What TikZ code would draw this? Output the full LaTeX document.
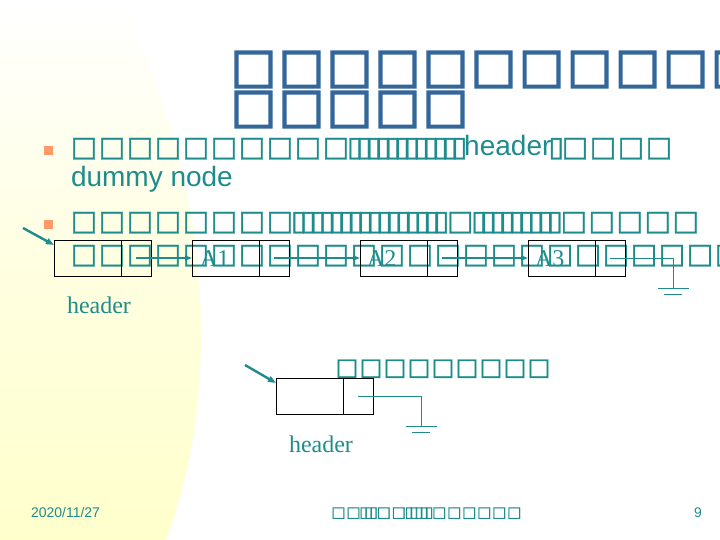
\documentclass[tikz,border=0pt]{standalone}
\usepackage{fontspec}
\setmainfont{Liberation Serif}
\setsansfont{Liberation Sans}
\newfontfamily\tofu[FakeBold=1.2]{DejaVu Sans Bold}
\newfontfamily\titletofu[FakeBold=3]{DejaVu Sans Bold}
\usetikzlibrary{arrows.meta, positioning}

\definecolor{tealtext}{RGB}{30,140,140}
\definecolor{titleblue}{RGB}{51,102,153}
\definecolor{bulletorange}{RGB}{255,153,102}
\definecolor{paleyellow}{RGB}{255,255,204}

% missing glyphs, as the slide shows them
\newcommand\sq{\makebox[1em]{\tofu □}}
\newcommand\nb{\makebox[0.34em]{\tofu ▯}}
\newcommand\bigsq{\makebox[1em]{\titletofu □}}
\newcommand\sqs[1]{\foreach\k in {1,...,#1}{\sq}}
\newcommand\nbs[1]{\foreach\k in {1,...,#1}{\nb}}
\newcommand\bigsqs[1]{\foreach\k in {1,...,#1}{\bigsq}}
\newcommand\earth[1]{%
  \draw[gndline] ([xshift=-15.5bp]#1) -- ([xshift=15.5bp]#1);
  \draw[gndline] ([xshift=-9bp,yshift=-6bp]#1) -- ([xshift=9bp,yshift=-6bp]#1);}

\tikzset{
  titletext/.style={anchor=base west, inner sep=0pt, outer sep=0pt, text=titleblue, font=\fontsize{48bp}{48bp}\selectfont},
  body/.style={anchor=base west, inner sep=0pt, outer sep=0pt, text=tealtext, font=\fontsize{28bp}{34bp}\selectfont},
  serifname/.style={anchor=base west, inner sep=0pt, outer sep=0pt, text=tealtext, font=\fontsize{24bp}{28bp}\selectfont},
  foot/.style={anchor=base west, inner sep=0pt, outer sep=0pt, text=tealtext, font=\fontsize{14bp}{16bp}\selectfont\sffamily},
  bullet/.style={fill=bulletorange, minimum size=9bp, inner sep=0pt},
  datacell/.style={draw=black, line width=0.8bp, minimum width=67bp, minimum height=36bp, inner sep=0pt, outer sep=0pt},
  ptrcell/.style={datacell, minimum width=30bp},
  link/.style={draw=tealtext, line width=1.6bp, -{Triangle[length=7bp,width=5bp]}},
  headptr/.style={draw=tealtext, line width=2.4bp, -{Triangle[length=8bp,width=6bp]}},
  gndline/.style={draw=tealtext, line width=0.8bp},
}

\begin{document}
\begin{tikzpicture}[x=1bp, y=-1bp]
  \useasboundingbox (0,0) rectangle (720,540);
  \clip (0,0) rectangle (720,540);
  % background
  \shade[top color=white, bottom color=paleyellow, middle color=paleyellow!60!white] (0,0) -- (120,0) .. controls (210,180) and (225,380) .. (166,540) -- (0,540) -- cycle;

  % title
  \node[titletext] (t1) at (229.5,82) {\bigsqs{11}};
  \node[titletext] (t2) at (229.5,122) {\bigsqs{5}};

  % bullets and text
  \node[bullet] (b1) at (48.5,151) {};
  \node[bullet] (b2) at (48.5,225) {};
  \node[body] (l1) at (70,156) {\sqs{10}\nbs{12}\textsf{header}\nb\sqs{4}};
  \node[body] (l2) at (71,187) {\sffamily dummy node};
  \node[body] (l3) at (70,230) {\sqs{8}\nbs{16}\sq\nbs{9}\sqs{5}};
  \node[body] (l4) at (70,263) {\sqs{24}};

  % list with header
  \coordinate (p1) at (23,228);
  \node[datacell, anchor=north west] (hd) at (54,240) {};
  \node[ptrcell, right=0pt of hd] (hdp) {};
  \node[datacell, anchor=north west] (a1) at (192,240) {};
  \node[ptrcell, right=0pt of a1] (a1p) {};
  \node[datacell, anchor=north west] (a2) at (360,240) {};
  \node[ptrcell, right=0pt of a2] (a2p) {};
  \node[datacell, anchor=north west] (a3) at (528,240) {};
  \node[ptrcell, right=0pt of a3] (a3p) {};
  \node[serifname] (n1) at (200,267) {A1};
  \node[serifname] (n2) at (367,267) {A2};
  \node[serifname] (n3) at (535,267) {A3};
  \draw[headptr] (p1) -- ([yshift=-5bp]hd.north west);
  \draw[link] (hdp.center) -- (a1.west);
  \draw[link] (a1p.center) -- (a2.west);
  \draw[link] (a2p.center) -- (a3.west);
  \coordinate (g1) at (673,288);
  \draw[gndline] (a3p.center) -| (g1);
  \earth{g1}
  \node[serifname] (h1) at (67,313) {header};

  % empty list
  \node[body, font=\fontsize{24bp}{28bp}\selectfont] (l5) at (335,375) {\sqs{9}};
  \coordinate (p2) at (245,365);
  \node[datacell, anchor=north west] (e1) at (276,378) {};
  \node[ptrcell, right=0pt of e1] (e1p) {};
  \draw[headptr] (p2) -- ([yshift=-5bp]e1.north west);
  \coordinate (g2) at (421,426);
  \draw[gndline] (e1p.center) -| (g2);
  \earth{g2}
  \node[serifname] (h2) at (289,452) {header};

  % footer
  \node[foot] (date) at (31,517) {2020/11/27};
  \node[foot, font=\fontsize{15bp}{16bp}\selectfont] (ft) at (331,517) {\sqs{2}\nbs{3}\sqs{2}\nbs{5}\sqs{6}};
  \node[foot] (pg) at (694,517) {9};
\end{tikzpicture}
\end{document}
